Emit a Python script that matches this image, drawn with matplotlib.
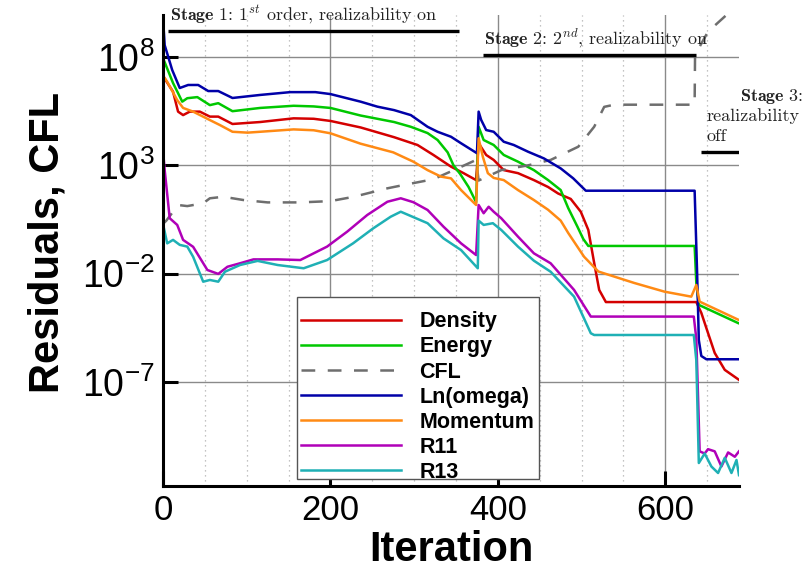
import numpy as np
import matplotlib
matplotlib.use("Agg")
import matplotlib.pyplot as plt
from matplotlib.patches import Rectangle
from matplotlib.ticker import FixedLocator, MultipleLocator, NullLocator

plt.rcParams["font.family"] = ["Liberation Sans", "DejaVu Sans"]
plt.rcParams["mathtext.fontset"] = "custom"
plt.rcParams["mathtext.rm"] = "Liberation Sans"
plt.rcParams["mathtext.it"] = "Liberation Sans:italic"
plt.rcParams["mathtext.bf"] = "Liberation Sans:bold"

# residual histories (x = iteration, values = log10 of residual)
x_density = [0, 12, 18, 24, 32, 44, 56, 66, 83, 116, 156, 180, 200, 236, 276, 304, 323, 344, 359, 374,
             377, 386, 395, 407, 424, 443, 460, 472, 487, 499, 508, 515, 521, 529, 637, 643, 651, 659, 671, 688]
log_density = [7.12, 6.4, 5.48, 5.32, 5.48, 5.48, 5.25, 5.25, 4.91, 5.0, 5.17, 5.15, 5.05, 4.75, 4.3, 3.94, 3.48, 2.94, 2.64, 2.32,
               4.02, 3.48, 3.25, 2.78, 2.64, 2.32, 2.0, 1.7, 1.45, 0.86, 0.02, -1.5, -2.75, -3.31, -3.31, -3.81, -4.74, -5.66, -6.44, -6.9]

x_energy = [0, 12, 23, 29, 41, 56, 66, 83, 116, 156, 180, 200, 236, 276, 296, 316, 328, 340, 347, 355, 365, 374,
            377, 383, 395, 407, 424, 443, 460, 475, 484, 495, 502, 508, 635, 637, 640, 687]
log_energy = [7.95, 6.8, 5.94, 6.1, 6.15, 5.78, 5.87, 5.5, 5.65, 5.75, 5.72, 5.65, 5.3, 5.0, 4.78, 4.49, 4.17, 3.6, 3.0, 2.6, 2.0, 1.3,
              4.78, 4.17, 3.94, 3.48, 3.17, 2.78, 2.32, 1.86, 1.03, 0.17, -0.4, -0.72, -0.72, -2.43, -3.44, -4.28]

x_cfl = [0, 4, 18, 29, 48, 56, 72, 96, 125, 164, 200, 228, 268, 287, 323, 352, 374,
         377, 404, 436, 463, 496, 515, 527, 539, 635, 635.5, 651, 673, 692]
log_cfl = [0.3, 0.45, 1.17, 1.12, 1.25, 1.48, 1.55, 1.4, 1.29, 1.29, 1.35, 1.55, 1.94, 2.09, 2.36, 2.86, 3.25,
           2.3, 2.78, 3.0, 3.25, 3.86, 4.78, 5.7, 5.8, 5.8, 8.1, 9.17, 9.94, 10.6]

x_omega = [0, 2, 11, 20, 30, 42, 54, 66, 83, 116, 152, 182, 200, 236, 256, 276, 296, 316, 328, 344, 356, 375,
           377, 380, 386, 395, 407, 419, 436, 455, 475, 490, 505, 635, 638, 640, 643, 649, 688]
log_omega = [9.8, 8.55, 7.4, 6.57, 6.71, 6.71, 6.43, 6.43, 6.11, 6.25, 6.38, 6.38, 6.29, 5.94, 5.71, 5.55, 5.32, 4.78, 4.55, 4.32, 4.02, 3.56,
             5.48, 5.1, 4.63, 4.55, 4.09, 3.94, 3.63, 3.32, 2.86, 2.4, 1.83, 1.83, -2.0, -5.06, -5.8, -5.95, -5.95]

x_momentum = [0, 5, 17, 24, 36, 56, 68, 83, 101, 116, 156, 180, 200, 236, 275, 299, 316, 332, 344, 356, 374,
              377, 382, 388, 395, 407, 424, 443, 460, 475, 484, 503, 520, 563, 599, 631, 637, 641, 688]
log_momentum = [7.15, 6.86, 6.01, 5.65, 5.48, 5.09, 4.86, 4.55, 4.51, 4.55, 4.66, 4.62, 4.48, 4.0, 3.6, 3.17, 2.78, 2.48, 2.4, 1.86, 1.17,
                4.25, 3.4, 2.64, 2.42, 2.32, 1.86, 1.4, 0.95, 0.45, -0.12, -1.22, -1.9, -2.43, -2.83, -3.06, -2.52, -3.29, -4.14]

x_r11 = [0, 2, 8, 17, 24, 36, 53, 66, 77, 92, 108, 137, 164, 196, 220, 244, 268, 284, 299, 316, 335, 356, 374,
         377, 383, 389, 395, 404, 424, 443, 463, 491, 511, 634, 637, 641, 647, 651, 659, 667, 675, 683, 688]
log_r11 = [3.7, 2.79, 0.56, 0.25, -0.44, -0.76, -1.83, -2.01, -1.68, -1.52, -1.34, -1.34, -1.37, -0.75, -0.06, 0.71, 1.32, 1.48, 1.3, 0.94, 0.17, -0.6, -1.14,
           1.17, 0.79, 1.09, 0.86, 0.56, -0.29, -1.06, -1.52, -2.75, -3.98, -3.98, -5.0, -10.2, -10.3, -10.1, -10.2, -10.9, -10.25, -10.45, -10.2]

x_r13 = [0, 5, 12, 20, 29, 36, 48, 56, 66, 74, 92, 113, 137, 168, 196, 227, 251, 272, 284, 316, 335, 356, 376,
         377, 383, 394, 404, 424, 443, 463, 491, 511, 515, 634, 637, 640, 647, 655, 663, 671, 679, 685, 688]
log_r13 = [0.3, -0.6, -0.44, -0.67, -0.75, -1.22, -2.37, -2.29, -2.37, -1.91, -1.6, -1.41, -1.6, -1.75, -1.37, -0.6, 0.09, 0.63, 0.86, 0.33, -0.37, -0.91, -1.75,
           0.45, 0.25, 0.33, 0.02, -0.75, -1.4, -1.91, -3.06, -4.75, -4.83, -4.83, -6.0, -10.74, -10.3, -10.9, -11.2, -10.5, -11.2, -10.6, -11.3]

# stage bars: (x start, x end, log10 level)
stage_bars = [(6, 353, 9.21), (382, 637, 8.09), (643, 688, 3.63)]

fig = plt.figure(figsize=(8.08, 5.73), dpi=100)
ax = fig.add_axes([163 / 808, 1 - 486 / 573, 576 / 808, 471 / 573])

lw = 1.8
ax.plot(x_density, np.power(10.0, log_density), color="#d40000", lw=lw, label="Density")
ax.plot(x_energy, np.power(10.0, log_energy), color="#00c800", lw=lw, label="Energy")
ax.plot(x_cfl, np.power(10.0, log_cfl), color="#6e6e6e", lw=lw, dashes=(5.5, 5), label="CFL")
ax.plot(x_omega, np.power(10.0, log_omega), color="#0000a8", lw=lw, label="Ln(omega)")
ax.plot(x_momentum, np.power(10.0, log_momentum), color="#ff8a14", lw=lw, label="Momentum")
ax.plot(x_r11, np.power(10.0, log_r11), color="#b000b8", lw=lw, label="R11")
ax.plot(x_r13, np.power(10.0, log_r13), color="#1fb0b5", lw=lw, label="R13")

for x0, x1, lev in stage_bars:
    ax.plot([x0, x1], [10 ** lev, 10 ** lev], color="black", lw=2.4, solid_capstyle="butt")

ax.set_yscale("log")
ax.set_xlim(0, 688)
ax.set_ylim(10 ** -11.8, 10 ** 9.94)

ax.xaxis.set_major_locator(FixedLocator([0, 200, 400, 600]))
ax.xaxis.set_minor_locator(MultipleLocator(50))
ax.yaxis.set_major_locator(FixedLocator([1e8, 1e3, 1e-2, 1e-7]))
ax.yaxis.set_minor_locator(NullLocator())
ax.set_yticklabels([r"$10^{8}$", r"$10^{3}$", r"$10^{-2}$", r"$10^{-7}$"])

ax.grid(True, which="major", color="#8a8a8a", lw=1.0)
ax.grid(True, which="minor", axis="x", color="#b0b0b0", lw=0.9, ls=(0, (1, 3)))
ax.set_axisbelow(True)

ax.tick_params(axis="both", which="major", direction="in", length=11, width=2.2, color="black")
ax.tick_params(axis="both", which="minor", length=0)
ax.tick_params(axis="x", labelsize=25, pad=6)
ax.tick_params(axis="y", labelsize=27, pad=6)

for side in ["top", "right"]:
    ax.spines[side].set_visible(False)
for side in ["left", "bottom"]:
    ax.spines[side].set_linewidth(2.2)

ax.set_xlabel("Iteration", fontsize=30, fontweight="bold")
ax.xaxis.set_label_coords(0.5, -0.093)
ax.set_ylabel("Residuals, CFL", fontsize=30, fontweight="bold")
ax.yaxis.set_label_coords(-0.165, 0.516)

# stage annotations (Computer Modern look)
tkw = dict(family="cmr10", math_fontfamily="cm", fontsize=13, color="#222222", va="center")
ax.text(8, 10 ** 9.94, r"$\mathbf{Stage\ 1}$: $1^{st}$ order, realizability on", ha="left", **tkw)
ax.text(383, 10 ** 8.92, r"$\mathbf{Stage\ 2}$: $2^{nd}$, realizability on", ha="left", **tkw)
ax.text(764, 10 ** 6.2, r"$\mathbf{Stage\ 3}$:", ha="right", **tkw)
ax.text(649, 10 ** 5.28, "realizability", ha="left", **tkw)
ax.text(649, 10 ** 4.35, "off", ha="left", **tkw)

# legend box drawn as its own rectangle, entries without frame
box = Rectangle((0.2326, 0.0149), 0.420, 0.3864, transform=ax.transAxes, facecolor="white",
                edgecolor="#555555", lw=1.0, zorder=4.9)
ax.add_patch(box)
leg = ax.legend(loc="upper left", bbox_to_anchor=(0.2326, 0.380), prop={"weight": "bold", "size": 15.5},
                handlelength=4.65, handletextpad=0.84, labelspacing=0.19, borderpad=0.2,
                borderaxespad=0, frameon=False)

fig.savefig("out.png", dpi=100)
